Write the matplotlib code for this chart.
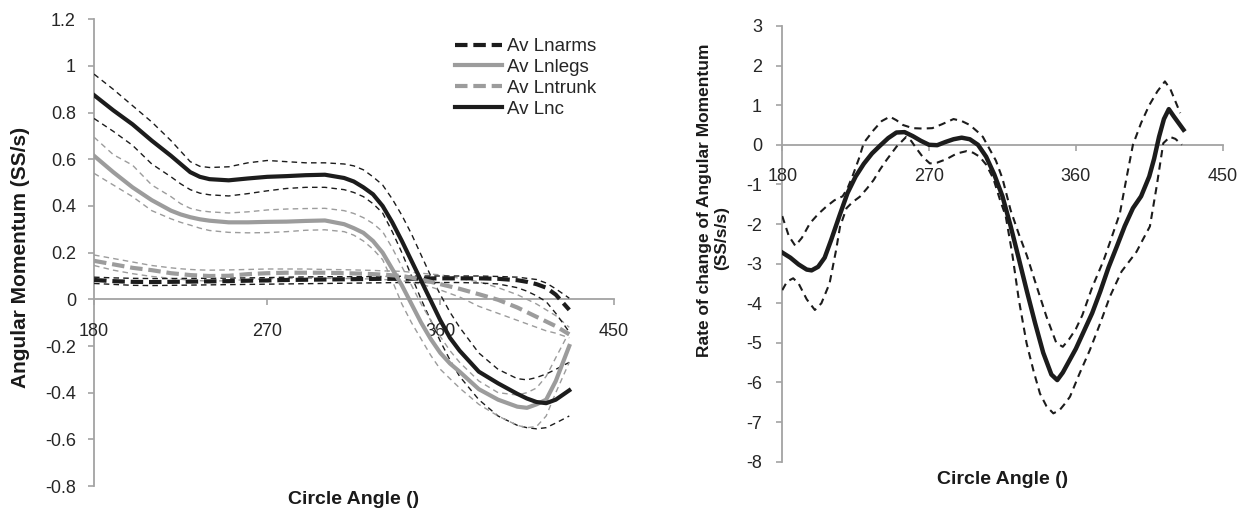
import matplotlib
matplotlib.use('Agg')
import matplotlib.pyplot as plt

plt.rcParams['font.family'] = ['Liberation Sans', 'DejaVu Sans']

# ---- left panel: angular momentum, mean and +/- bands ----
angle_l = [180, 190, 200, 210, 220, 225, 230, 235, 240, 250, 260, 270, 280, 290, 300, 310, 315, 320,
           325, 330, 335, 340, 345, 350, 355, 360, 365, 370, 380, 390, 400, 405, 410, 415, 420, 427]

lnc = [0.875, 0.81, 0.75, 0.68, 0.615, 0.58, 0.545, 0.525, 0.515, 0.51, 0.518, 0.525, 0.528, 0.532,
       0.534, 0.52, 0.505, 0.48, 0.45, 0.40, 0.33, 0.25, 0.165, 0.08, -0.005, -0.09, -0.165, -0.22,
       -0.31, -0.36, -0.405, -0.425, -0.44, -0.445, -0.43, -0.39]
lnc_hi = [0.965, 0.90, 0.83, 0.76, 0.68, 0.635, 0.59, 0.57, 0.565, 0.568, 0.585, 0.595, 0.59, 0.585,
          0.585, 0.58, 0.572, 0.555, 0.525, 0.49, 0.43, 0.36, 0.28, 0.19, 0.10, 0.02, -0.055, -0.12,
          -0.23, -0.30, -0.34, -0.345, -0.335, -0.32, -0.30, -0.27]
lnc_lo = [0.775, 0.72, 0.66, 0.58, 0.525, 0.495, 0.47, 0.455, 0.448, 0.443, 0.453, 0.465, 0.475, 0.48,
          0.48, 0.47, 0.458, 0.44, 0.41, 0.37, 0.29, 0.20, 0.10, 0.0, -0.09, -0.18, -0.26, -0.33,
          -0.43, -0.50, -0.54, -0.55, -0.555, -0.55, -0.53, -0.50]

legs = [0.615, 0.545, 0.48, 0.425, 0.38, 0.364, 0.352, 0.343, 0.337, 0.33, 0.33, 0.332, 0.333, 0.336,
        0.338, 0.322, 0.305, 0.285, 0.25, 0.20, 0.13, 0.06, -0.02, -0.10, -0.17, -0.23, -0.275, -0.31,
        -0.385, -0.43, -0.46, -0.465, -0.45, -0.43, -0.35, -0.20]
legs_hi = [0.695, 0.62, 0.575, 0.49, 0.44, 0.41, 0.39, 0.38, 0.375, 0.37, 0.375, 0.383, 0.387, 0.389,
           0.39, 0.38, 0.368, 0.35, 0.325, 0.29, 0.22, 0.14, 0.06, -0.02, -0.09, -0.16, -0.22, -0.27,
           -0.35, -0.40, -0.41, -0.40, -0.38, -0.33, -0.25, -0.14]
legs_lo = [0.54, 0.49, 0.44, 0.38, 0.345, 0.33, 0.318, 0.305, 0.295, 0.287, 0.285, 0.286, 0.29, 0.296,
           0.298, 0.29, 0.275, 0.25, 0.215, 0.17, 0.08, -0.02, -0.10, -0.17, -0.24, -0.30, -0.34, -0.38,
           -0.45, -0.50, -0.54, -0.55, -0.545, -0.50, -0.40, -0.27]

trunk = [0.165, 0.15, 0.135, 0.125, 0.112, 0.108, 0.104, 0.102, 0.10, 0.101, 0.108, 0.112, 0.114, 0.114,
         0.114, 0.112, 0.111, 0.11, 0.108, 0.106, 0.103, 0.10, 0.093, 0.085, 0.075, 0.065, 0.055, 0.045,
         0.022, -0.002, -0.035, -0.055, -0.075, -0.095, -0.115, -0.15]
trunk_hi = [0.19, 0.175, 0.16, 0.145, 0.135, 0.131, 0.128, 0.126, 0.125, 0.126, 0.128, 0.13, 0.13, 0.13,
            0.128, 0.127, 0.126, 0.125, 0.124, 0.122, 0.121, 0.12, 0.116, 0.112, 0.108, 0.105, 0.098, 0.09,
            0.075, 0.05, 0.02, 0.0, -0.02, -0.045, -0.07, -0.12]
trunk_lo = [0.145, 0.125, 0.11, 0.098, 0.09, 0.086, 0.082, 0.08, 0.078, 0.08, 0.085, 0.088, 0.09, 0.09,
            0.09, 0.089, 0.089, 0.088, 0.087, 0.085, 0.083, 0.08, 0.073, 0.065, 0.053, 0.04, 0.025, 0.01,
            -0.03, -0.06, -0.09, -0.105, -0.12, -0.135, -0.145, -0.165]

arms = [0.083, 0.078, 0.075, 0.074, 0.075, 0.0755, 0.076, 0.0765, 0.077, 0.078, 0.08, 0.081, 0.083, 0.084,
        0.085, 0.086, 0.0865, 0.087, 0.0875, 0.088, 0.088, 0.088, 0.0885, 0.089, 0.0895, 0.09, 0.09, 0.09,
        0.09, 0.088, 0.082, 0.075, 0.065, 0.05, 0.02, -0.045]
arms_hi = [0.095, 0.092, 0.09, 0.089, 0.089, 0.0895, 0.09, 0.09, 0.09, 0.091, 0.092, 0.093, 0.095, 0.096,
           0.097, 0.097, 0.097, 0.097, 0.0975, 0.098, 0.0985, 0.099, 0.0995, 0.1, 0.1, 0.1, 0.1, 0.1,
           0.1, 0.098, 0.095, 0.09, 0.085, 0.07, 0.045, 0.005]
arms_lo = [0.068, 0.064, 0.06, 0.059, 0.06, 0.0605, 0.061, 0.0615, 0.062, 0.063, 0.064, 0.065, 0.066, 0.067,
           0.068, 0.069, 0.0695, 0.07, 0.0705, 0.071, 0.0715, 0.072, 0.072, 0.072, 0.072, 0.072, 0.072, 0.072,
           0.07, 0.066, 0.05, 0.035, 0.015, -0.01, -0.06, -0.14]

# ---- right panel: rate of change of angular momentum ----
angle_r = [180, 185, 190, 195, 198, 202, 206, 210, 215, 220,
           225, 230, 235, 240, 245, 250, 255, 260, 265, 270,
           275, 280, 285, 290, 295, 300, 305, 310, 315, 320,
           325, 330, 335, 340, 345, 348.6, 352, 356, 360, 365,
           370, 375, 380, 385, 390, 395, 400, 405, 408, 411,
           414, 417, 420, 426]
rate = [-2.72, -2.85, -3.02, -3.15, -3.17, -3.08, -2.85, -2.40, -1.80, -1.22,
        -0.80, -0.48, -0.22, -0.02, 0.17, 0.31, 0.32, 0.22, 0.10, 0.0,
        -0.01, 0.07, 0.14, 0.18, 0.14, 0.0, -0.30, -0.75, -1.30, -2.05,
        -2.87, -3.70, -4.50, -5.25, -5.80, -5.94, -5.75, -5.45, -5.15, -4.70,
        -4.25, -3.70, -3.10, -2.58, -2.05, -1.60, -1.30, -0.80, -0.35, 0.20,
        0.65, 0.90, 0.72, 0.38]

angle_r_hi = [180, 184, 188, 192, 197, 202, 207, 212, 217, 220,
              223, 227, 230, 236, 241, 246, 250, 254, 260, 266,
              272, 278, 285, 290, 295, 300, 303, 307, 311, 315,
              320, 325, 330, 335, 342, 348, 352, 356, 360, 364,
              370, 377, 381, 387, 391, 395, 400, 405, 410, 414.6,
              418, 421, 424]
rate_hi = [-1.80, -2.30, -2.55, -2.35, -1.98, -1.75, -1.56, -1.40, -1.30, -1.10,
           -0.80, -0.35, 0.05, 0.37, 0.60, 0.71, 0.62, 0.50, 0.42, 0.41,
           0.42, 0.52, 0.65, 0.60, 0.50, 0.32, 0.20, -0.10, -0.40, -0.85,
           -1.65, -2.25, -2.80, -3.45, -4.34, -5.00, -5.10, -4.90, -4.65, -4.30,
           -3.60, -2.92, -2.45, -1.73, -0.85, 0.0, 0.55, 1.00, 1.35, 1.60,
           1.40, 1.10, 0.80]

angle_r_lo = [180, 183, 186.7, 190, 195, 200, 204, 209, 213, 215.4,
              219.4, 223, 227.6, 232, 236, 240, 244, 250, 256, 259,
              262.4, 266, 270.5, 275, 280.8, 287, 293, 297, 301, 305,
              309.4, 313.5, 317, 321, 325, 329.8, 334, 338, 342, 346.2,
              350, 353, 356.4, 362, 368.6, 375, 380.9, 388, 397.2, 401,
              405.4, 409.5, 413.6, 417.7, 421, 425]
rate_lo = [-3.67, -3.45, -3.37, -3.50, -3.90, -4.17, -4.00, -3.50, -2.66, -2.07,
           -1.60, -1.45, -1.31, -1.10, -0.89, -0.62, -0.38, -0.05, 0.20, 0.10,
           -0.10, -0.30, -0.47, -0.45, -0.36, -0.22, -0.16, -0.20, -0.30, -0.50,
           -0.85, -1.39, -1.80, -2.75, -3.90, -5.01, -5.70, -6.28, -6.60, -6.78,
           -6.70, -6.55, -6.36, -5.80, -5.18, -4.50, -3.83, -3.20, -2.70, -2.40,
           -2.06, -1.06, 0.04, 0.20, 0.15, 0.0]

x_ticks = [180, 270, 360, 450]
y_ticks_l = [-0.8, -0.6, -0.4, -0.2, 0, 0.2, 0.4, 0.6, 0.8, 1, 1.2]
y_labels_l = ['-0.8', '-0.6', '-0.4', '-0.2', '0', '0.2', '0.4', '0.6', '0.8', '1', '1.2']
y_ticks_r = list(range(-8, 4))

BLACK = '#1c1c1c'
GREY = '#9c9c9c'
AXIS = '#a3a3a3'
TICKCOL = '#262626'
TICKSIZE = 13


def style_axes(ax, xlim, ylim, yticks, ylabels, ypad):
    ax.set_xlim(*xlim)
    ax.set_ylim(*ylim)
    for s in ['top', 'right']:
        ax.spines[s].set_visible(False)
    ax.spines['bottom'].set_position(('data', 0))
    for s in ['left', 'bottom']:
        ax.spines[s].set_color(AXIS)
        ax.spines[s].set_linewidth(1.3)
        ax.spines[s].set_zorder(1)
    ax.set_xticks(x_ticks)
    ax.set_xticklabels([str(t) for t in x_ticks])
    ax.set_yticks(yticks)
    ax.set_yticklabels(ylabels)
    ax.tick_params(axis='x', direction='out', length=4, width=1.2, color=AXIS,
                   labelsize=TICKSIZE, labelcolor=TICKCOL, pad=13)
    ax.tick_params(axis='y', direction='out', length=4, width=1.2, color=AXIS,
                   labelsize=TICKSIZE, labelcolor=TICKCOL, pad=ypad)
    ax.patch.set_visible(False)


fig = plt.figure(figsize=(12.49, 5.11), dpi=100)

# left panel
ax1 = fig.add_axes([0.0753, 0.0489, 0.4159, 0.9133])
thin = dict(lw=1.0, dashes=(4, 3), zorder=3)
ax1.plot(angle_l, lnc_hi, color=BLACK, **thin)
ax1.plot(angle_l, lnc_lo, color=BLACK, **thin)
ax1.plot(angle_l, legs_hi, color=GREY, **thin)
ax1.plot(angle_l, legs_lo, color=GREY, **thin)
ax1.plot(angle_l, trunk_hi, color=GREY, **thin)
ax1.plot(angle_l, trunk_lo, color=GREY, **thin)
ax1.plot(angle_l, arms_hi, color=BLACK, **thin)
ax1.plot(angle_l, arms_lo, color=BLACK, **thin)

ax1.plot(angle_l, arms, color=BLACK, lw=3, dashes=(3, 1.4), label='Av Lnarms', zorder=4)
ax1.plot(angle_l, legs, color=GREY, lw=3, label='Av Lnlegs', zorder=4)
ax1.plot(angle_l, trunk, color=GREY, lw=3, dashes=(3, 1.4), label='Av Lntrunk', zorder=4)
ax1.plot(angle_l, lnc, color=BLACK, lw=3, label='Av Lnc', zorder=5)

style_axes(ax1, (180, 450), (-0.8, 1.2), y_ticks_l, y_labels_l, 9)

leg = ax1.legend(loc='upper left', bbox_to_anchor=(455 / 1249, 1 - 38 / 511),
                 bbox_transform=fig.transFigure, frameon=False, fontsize=13.5,
                 handlelength=2.5, handletextpad=0.25, labelspacing=0.2,
                 borderpad=0, borderaxespad=0)
for t in leg.get_texts():
    t.set_color(TICKCOL)

fig.text(21 / 1249, 1 - 257 / 511, 'Angular Momentum (SS/s)', rotation=90,
         ha='center', va='center', fontsize=15, fontweight='bold', color='#1a1a1a')
fig.text(353.4 / 1249, 1 - 499 / 511, 'Circle Angle ()', ha='center', va='center',
         fontsize=14, fontweight='bold', color='#1a1a1a')

# right panel
ax2 = fig.add_axes([0.6263, 0.0965, 0.3526, 0.8527])
ax2.plot(angle_r_hi, rate_hi, color=BLACK, lw=1.5, dashes=(3.5, 2.5), zorder=3)
ax2.plot(angle_r_lo, rate_lo, color=BLACK, lw=1.5, dashes=(3.5, 2.5), zorder=3)
ax2.plot(angle_r, rate, color=BLACK, lw=3.2, zorder=4)

style_axes(ax2, (180, 450), (-8, 3), y_ticks_r, [str(t) for t in y_ticks_r], 10.5)

fig.text(705 / 1249, 1 - 200 / 511, 'Rate of change of Angular Momentum', rotation=90,
         ha='center', va='center', fontsize=12.5, fontweight='bold', color='#1a1a1a')
fig.text(722 / 1249, 1 - 238 / 511, '(SS/s/s)', rotation=90,
         ha='center', va='center', fontsize=12.5, fontweight='bold', color='#1a1a1a')
fig.text(1002.5 / 1249, 1 - 480 / 511, 'Circle Angle ()', ha='center', va='center',
         fontsize=14, fontweight='bold', color='#1a1a1a')

fig.savefig('out.png', dpi=100)
